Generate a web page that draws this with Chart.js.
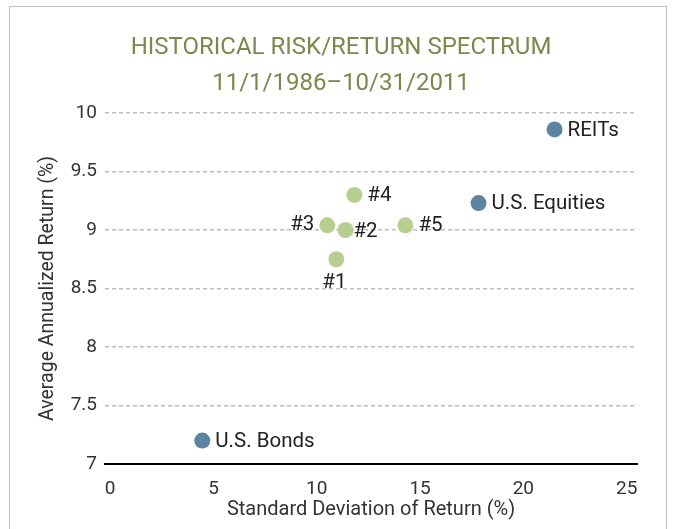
<!DOCTYPE html>
<html>
<head>
<meta charset="utf-8">
<script src="https://cdn.jsdelivr.net/npm/chart.js@4/dist/chart.umd.min.js"></script>
<style>
  html, body { margin: 0; padding: 0; background: #fff; }
  #wrap { position: relative; width: 676px; height: 529px; overflow: hidden; }
  #frame { position: absolute; left: 9px; top: 6px; width: 658px; height: 600px;
           border: 1px solid #bdbdbd; box-sizing: border-box; }
  #chart { position: absolute; left: 0; top: 0; }
</style>
</head>
<body>
<div id="wrap">
  <div id="frame"></div>
  <canvas id="chart" width="676" height="529"></canvas>
</div>
<script>
const titleLines = ['HISTORICAL RISK/RETURN SPECTRUM', '11/1/1986\u201310/31/2011'];

const assetNames = ['U.S. Bonds', 'U.S. Equities', 'REITs'];
const assetRisk = [4.46, 17.83, 21.51];
const assetReturn = [7.2, 9.23, 9.86];

const portfolioNames = ['#1', '#2', '#3', '#4', '#5'];
const portfolioRisk = [10.95, 11.39, 10.51, 11.82, 14.29];
const portfolioReturn = [8.75, 9.0, 9.04, 9.3, 9.04];

const xTicks = [0, 5, 10, 15, 20, 25];
const yTicks = [7, 7.5, 8, 8.5, 9, 9.5, 10];

const fontFamily = 'Roboto, "Liberation Sans", sans-serif';

// where each point's label sits relative to the dot
const labelSide = {
    '#1': 'below',
    '#2': 'rightLow',
    '#3': 'left'
};

const pointLabels = {
    id: 'pointLabels',
    afterDatasetsDraw(chart) {
        const ctx = chart.ctx;
        ctx.save();
        ctx.font = '20.5px ' + fontFamily;
        ctx.fillStyle = '#222';
        chart.data.datasets.forEach((ds, i) => {
            const meta = chart.getDatasetMeta(i);
            meta.data.forEach((pt, j) => {
                const name = ds.names[j];
                const side = labelSide[name] || 'right';
                let x = pt.x, y = pt.y;
                if (side === 'left') {
                    ctx.textAlign = 'right'; ctx.textBaseline = 'middle';
                    x -= 13;
                } else if (side === 'below') {
                    ctx.textAlign = 'center'; ctx.textBaseline = 'middle';
                    x -= 2; y += 24;
                } else if (side === 'rightLow') {
                    ctx.textAlign = 'left'; ctx.textBaseline = 'middle';
                    x += 8; y += 2;
                } else {
                    ctx.textAlign = 'left'; ctx.textBaseline = 'middle';
                    x += 13; y += 1;
                }
                ctx.fillText(name, x, y);
            });
        });
        ctx.restore();
    }
};

const data = {
    datasets: [{
        label: 'Assets',
        names: assetNames,
        data: assetRisk.map((v, i) => ({ x: v, y: assetReturn[i] })),
        backgroundColor: '#5b84a0',
        borderWidth: 0,
        pointRadius: 8,
        pointHoverRadius: 8
    }, {
        label: 'Portfolios',
        names: portfolioNames,
        data: portfolioRisk.map((v, i) => ({ x: v, y: portfolioReturn[i] })),
        backgroundColor: '#b6cf90',
        borderWidth: 0,
        pointRadius: 8,
        pointHoverRadius: 8
    }]
};

const config = {
    type: 'scatter',
    data: data,
    plugins: [pointLabels],
    options: {
        responsive: false,
        animation: false,
        layout: { padding: { left: 45, right: 39, top: 0, bottom: 0 } },
        plugins: {
            legend: { display: false },
            tooltip: { enabled: false },
            title: {
                display: true,
                text: titleLines,
                color: '#7a8a4c',
                font: { family: fontFamily, size: 24, weight: 'normal', lineHeight: 1.5 },
                padding: { top: 30, bottom: 11 }
            }
        },
        scales: {
            x: {
                type: 'linear',
                min: -0.25,
                max: 25.5,
                afterBuildTicks: s => { s.ticks = xTicks.map(v => ({ value: v })); },
                afterFit: s => { s.height = 65; },
                grid: { display: false },
                border: { display: true, color: '#000', width: 2 },
                ticks: {
                    color: '#333',
                    padding: 6,
                    font: { family: fontFamily, size: 19 }
                },
                title: {
                    display: true,
                    text: 'Standard Deviation of Return (%)',
                    color: '#333',
                    font: { family: fontFamily, size: 20 },
                    padding: { top: 0, bottom: 7 }
                }
            },
            y: {
                type: 'linear',
                min: 7,
                max: 10,
                afterBuildTicks: s => { s.ticks = yTicks.map(v => ({ value: v })); },
                afterFit: s => { s.width = 60; },
                border: { display: false, dash: [4, 3] },
                grid: {
                    color: c => c.tick && c.tick.value === 7 ? 'rgba(0,0,0,0)' : '#bdbdbd',
                    lineWidth: 1.5,
                    drawTicks: false
                },
                ticks: {
                    color: '#333',
                    padding: 8,
                    font: { family: fontFamily, size: 19 },
                    callback: v => String(v)
                },
                title: {
                    display: true,
                    text: 'Average Annualized Return (%)',
                    color: '#333',
                    font: { family: fontFamily, size: 19.5 },
                    padding: { top: -9, bottom: 0 }
                }
            }
        }
    }
};

new Chart(document.querySelector('#chart'), config);
</script>
</body>
</html>
